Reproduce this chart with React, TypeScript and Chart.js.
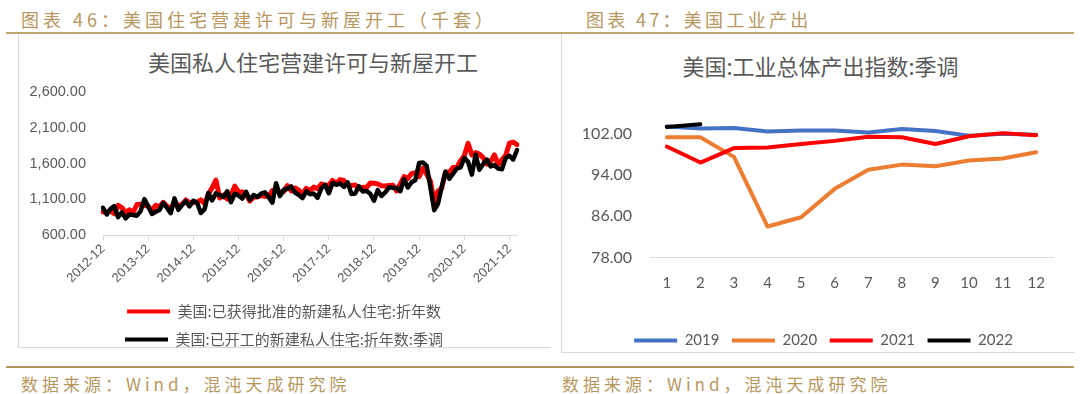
import React, { useEffect, useRef } from "react";
import { Chart, registerables } from "chart.js";
Chart.register(...registerables);

// ---------- Left chart data (thousand units, SAAR), monthly from 2012-12 ----------
const firstMonth = { year: 2012, month: 12 };
const permits: number[] = [
  926,
  925, 939, 902, 1017, 985, 918, 954, 918, 1029, 1034, 1016, 1002,
  951, 1017, 1000, 1059, 1005, 973, 1064, 1015, 1030, 1092, 1052, 1058,
  1063, 1094, 1038, 1177, 1263, 1370, 1119, 1161, 1105, 1160, 1285, 1204,
  1202, 1177, 1077, 1130, 1136, 1153, 1144, 1139, 1225, 1229, 1201, 1210,
  1293, 1219, 1260, 1228, 1168, 1254, 1223, 1272, 1250, 1316, 1298, 1300,
  1366, 1323, 1377, 1364, 1301, 1292, 1303, 1249, 1270, 1265, 1328, 1326,
  1317, 1291, 1288, 1296, 1299, 1220, 1317, 1419, 1391, 1461, 1474, 1420,
  1536, 1452, 1356, 1066, 1216, 1258, 1483, 1476, 1545, 1545, 1639, 1709,
  1883, 1720, 1755, 1733, 1683, 1594, 1630, 1721, 1586, 1653, 1717, 1885,
  1899, 1865,
];
const starts: number[] = [
  983,
  890, 969, 1005, 852, 919, 835, 891, 883, 873, 936, 1105, 1003,
  897, 928, 953, 1052, 981, 907, 1115, 954, 1022, 1076, 1004, 1080,
  1053, 910, 964, 1190, 1087, 1184, 1161, 1132, 1214, 1062, 1179, 1156,
  1112, 1206, 1095, 1161, 1133, 1181, 1200, 1134, 1054, 1326, 1146, 1232,
  1249, 1281, 1197, 1165, 1119, 1213, 1172, 1181, 1122, 1254, 1303, 1186,
  1329, 1304, 1323, 1274, 1339, 1177, 1183, 1284, 1210, 1219, 1180, 1082,
  1230, 1149, 1199, 1270, 1264, 1258, 1215, 1386, 1266, 1340, 1371, 1608,
  1617, 1567, 1269, 950, 1038, 1273, 1487, 1388, 1459, 1530, 1547, 1680,
  1625, 1447, 1725, 1514, 1594, 1657, 1562, 1580, 1530, 1520, 1678, 1708,
  1657, 1790,
];
const leftSeriesNames = [
  "美国:已获得批准的新建私人住宅:折年数",
  "美国:已开工的新建私人住宅:折年数:季调",
];
const leftYMin = 600;
const leftYMax = 2600;
const leftYStep = 500;

const monthLabels: string[] = permits.map((_, i) => {
  const total = firstMonth.year * 12 + (firstMonth.month - 1) + i;
  const y = Math.floor(total / 12);
  const m = (total % 12) + 1;
  return `${y}-${String(m).padStart(2, "0")}`;
});

// ---------- Right chart data (industrial production index, SA) ----------
const monthsRight = ["1", "2", "3", "4", "5", "6", "7", "8", "9", "10", "11", "12"];
const ip2019 = [103.4, 103.0, 103.1, 102.4, 102.6, 102.6, 102.2, 102.9, 102.5, 101.6, 102.0, 101.8];
const ip2020 = [101.3, 101.3, 97.5, 84.0, 85.8, 91.3, 95.0, 96.0, 95.7, 96.8, 97.2, 98.4];
const ip2021 = [99.5, 96.4, 99.2, 99.3, 100.0, 100.6, 101.4, 101.3, 100.0, 101.5, 102.1, 101.7];
const ip2022 = [103.3, 103.8];
const rightYTicks = [78, 86, 94, 102];
const rightYMin = 78;
const rightYMax = 106;

const GOLD_TEXT = "#b8975f";
const GOLD_LINE = "#c2a473";
const GRAY_TEXT = "#595959";
const CJK = '"Noto Sans CJK SC", "Noto Sans", sans-serif';

function legendLabels(chart: any) {
  return Chart.defaults.plugins.legend.labels
    .generateLabels(chart)
    .map((l: any) => ({ ...l, lineWidth: 0, fillStyle: l.strokeStyle }))
    .sort((a: any, b: any) => a.datasetIndex - b.datasetIndex);
}

// an empty axis that only reserves room on the right of the plot
const spacerAxis = (w: number) => ({
  position: "right" as const,
  display: true,
  grid: { display: false, drawTicks: false },
  border: { display: false },
  ticks: { display: false },
  afterFit: (s: any) => {
    s.width = w;
  },
});

function LeftChart() {
  const ref = useRef<HTMLCanvasElement>(null);
  useEffect(() => {
    const chart = new Chart(ref.current!, {
      type: "line",
      data: {
        labels: monthLabels,
        datasets: [
          {
            label: leftSeriesNames[0],
            data: permits,
            borderColor: "#ff0000",
            backgroundColor: "#ff0000",
            borderWidth: 5,
            pointRadius: 0,
            order: 1,
            borderJoinStyle: "round",
            borderCapStyle: "round",
          },
          {
            label: leftSeriesNames[1],
            data: starts,
            borderColor: "#000000",
            backgroundColor: "#000000",
            borderWidth: 4.5,
            pointRadius: 0,
            order: 0,
            borderJoinStyle: "round",
            borderCapStyle: "round",
          },
        ],
      },
      options: {
        animation: false,
        responsive: false,
        devicePixelRatio: 1,
        layout: { padding: { left: 0, right: 0, top: 57, bottom: 2 } },
        plugins: {
          title: { display: false },
          tooltip: { enabled: false },
          legend: {
            position: "bottom",
            align: "center",
            labels: {
              boxWidth: 43,
              boxHeight: 4,
              padding: 13,
              color: GRAY_TEXT,
              font: { family: CJK, size: 15 },
              generateLabels: legendLabels,
            },
          },
        },
        scales: {
          x: {
            type: "category",
            offset: false,
            grid: { display: true, drawOnChartArea: false, drawTicks: true, tickLength: 5, color: "#d9d9d9" },
            border: { display: true, color: "#d9d9d9", width: 1 },
            ticks: {
              autoSkip: false,
              minRotation: 45,
              maxRotation: 45,
              padding: 1,
              color: GRAY_TEXT,
              font: { family: '"Liberation Sans", Arial, sans-serif', size: 13 },
              callback: (_v: any, i: number) => (i % 12 === 0 ? monthLabels[i] : null),
            },
            afterFit: (s: any) => {
              s.height = s.height + 4;
            },
          },
          y: {
            min: leftYMin,
            max: leftYMax,
            grid: { display: false, drawTicks: false },
            border: { display: false },
            ticks: {
              stepSize: leftYStep,
              padding: 17,
              color: GRAY_TEXT,
              font: { family: '"Liberation Sans", Arial, sans-serif', size: 14.5 },
              callback: (v: any) =>
                Number(v).toLocaleString("en-US", { minimumFractionDigits: 2, maximumFractionDigits: 2 }),
            },
            afterFit: (s: any) => {
              s.width = 84;
            },
          },
          yRight: spacerAxis(32),
        },
      },
    });
    return () => chart.destroy();
  }, []);
  return <canvas ref={ref} width={530} height={324} style={{ position: "absolute", left: 19, top: 35 }} />;
}

function RightChart() {
  const ref = useRef<HTMLCanvasElement>(null);
  useEffect(() => {
    const mk = (label: string, data: number[], color: string, order: number) => ({
      label,
      data,
      borderColor: color,
      backgroundColor: color,
      borderWidth: 4,
      pointRadius: 0,
      order,
      borderJoinStyle: "round" as const,
      borderCapStyle: "round" as const,
    });
    const chart = new Chart(ref.current!, {
      type: "line",
      data: {
        labels: monthsRight,
        datasets: [
          mk("2019", ip2019, "#4472c4", 3),
          mk("2020", ip2020, "#ed7d31", 2),
          mk("2021", ip2021, "#ff0000", 1),
          mk("2022", ip2022, "#000000", 0),
        ],
      },
      options: {
        animation: false,
        responsive: false,
        devicePixelRatio: 1,
        layout: { padding: { left: 12, right: 0, top: 78, bottom: 6 } },
        plugins: {
          title: { display: false },
          tooltip: { enabled: false },
          legend: {
            position: "bottom",
            align: "center",
            labels: {
              boxWidth: 43,
              boxHeight: 4,
              padding: 12.5,
              color: GRAY_TEXT,
              font: { family: "Lato, sans-serif", size: 15 },
              generateLabels: legendLabels,
            },
          },
        },
        scales: {
          x: {
            type: "category",
            offset: true,
            grid: { display: false, drawTicks: false },
            border: { display: true, color: "#d9d9d9", width: 1 },
            ticks: {
              padding: 17,
              color: GRAY_TEXT,
              font: { family: "Lato, sans-serif", size: 15 },
            },
            afterFit: (s: any) => {
              s.height = 63;
            },
          },
          y: {
            min: rightYMin,
            max: rightYMax,
            grid: { display: false, drawTicks: false },
            border: { display: false },
            afterBuildTicks: (s: any) => {
              s.ticks = rightYTicks.map((v) => ({ value: v }));
            },
            ticks: {
              padding: 18,
              color: GRAY_TEXT,
              font: { family: "Lato, sans-serif", size: 16 },
              callback: (v: any) => Number(v).toFixed(2),
            },
            afterFit: (s: any) => {
              s.width = 76;
            },
          },
          yRight: spacerAxis(20),
        },
      },
    });
    return () => chart.destroy();
  }, []);
  return <canvas ref={ref} width={511} height={329} style={{ position: "absolute", left: 562, top: 35 }} />;
}

const headerStyle: React.CSSProperties = {
  position: "absolute",
  fontFamily: CJK,
  fontSize: 18,
  lineHeight: "18px",
  letterSpacing: 4,
  color: GOLD_TEXT,
  whiteSpace: "nowrap",
};

const footerStyle: React.CSSProperties = {
  ...headerStyle,
  fontSize: 17,
  lineHeight: "17px",
  letterSpacing: 4,
};

export default function App() {
  return (
    <div
      style={{
        position: "fixed",
        left: 0,
        top: 0,
        width: 1080,
        height: 394,
        background: "#ffffff",
        overflow: "hidden",
      }}
    >
      {/* headers */}
      <div style={{ ...headerStyle, left: 21, top: 10 }}>图表 46：美国住宅营建许可与新屋开工（千套）</div>
      <div style={{ ...headerStyle, left: 586, top: 10, letterSpacing: 3.3 }}>图表 47：美国工业产出</div>
      <div style={{ position: "absolute", left: 6, top: 32, width: 1068, height: 2, background: GOLD_LINE }} />

      {/* chart frames */}
      <div
        style={{
          position: "absolute",
          left: 18,
          top: 34,
          width: 532,
          height: 313,
          borderLeft: "1px solid #d9d9d9",
          borderBottom: "1px solid #d9d9d9",
        }}
      />
      <div
        style={{
          position: "absolute",
          left: 561,
          top: 34,
          width: 513,
          height: 318,
          borderLeft: "1px solid #d9d9d9",
          borderBottom: "1px solid #d9d9d9",
        }}
      />

      {/* chart titles */}
      <div
        style={{
          position: "absolute",
          left: 148,
          top: 50,
          fontFamily: CJK,
          fontSize: 22,
          lineHeight: "22px",
          color: GRAY_TEXT,
          whiteSpace: "nowrap",
        }}
      >
        美国私人住宅营建许可与新屋开工
      </div>
      <div
        style={{
          position: "absolute",
          left: 564,
          width: 513,
          top: 54,
          textAlign: "center",
          fontFamily: CJK,
          fontSize: 22,
          lineHeight: "22px",
          color: GRAY_TEXT,
          whiteSpace: "nowrap",
        }}
      >
        美国:工业总体产出指数:季调
      </div>

      <LeftChart />
      <RightChart />

      {/* footers */}
      <div style={{ position: "absolute", left: 6, top: 366, width: 1068, height: 2, background: GOLD_TEXT }} />
      <div style={{ ...footerStyle, left: 21, top: 375 }}>数据来源：Wind，混沌天成研究院</div>
      <div style={{ ...footerStyle, left: 562, top: 375 }}>数据来源：Wind，混沌天成研究院</div>
    </div>
  );
}
